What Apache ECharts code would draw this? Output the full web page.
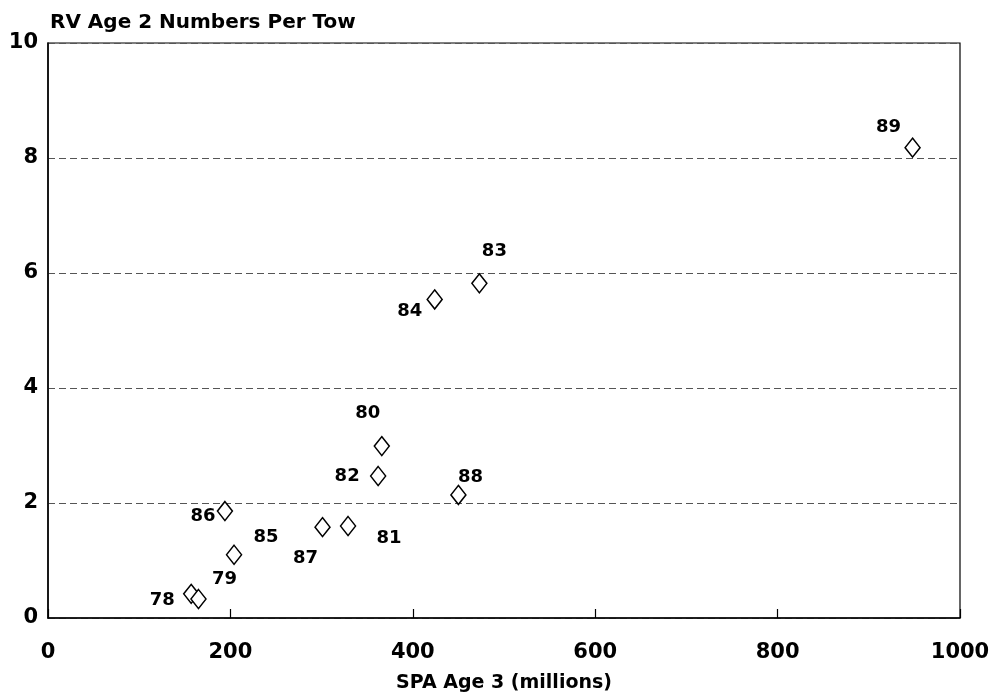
<!DOCTYPE html>
<html>
<head>
<meta charset="utf-8">
<script src="https://cdn.jsdelivr.net/npm/echarts@6/dist/echarts.min.js"></script>
<style>
  html, body { margin: 0; padding: 0; background: #fff; }
  #chart { width: 997px; height: 698px; }
</style>
</head>
<body>
<div id="chart"></div>
<script>
'use strict'

// data: year label, SPA age 3 (millions), RV age 2 numbers per tow
const years = ['78', '79', '80', '81', '82', '83', '84', '85', '86', '87', '88', '89']
const spaAge3 = [157, 165, 366, 329, 362, 473, 424, 204, 194, 301, 450, 948]
const rvAge2 = [0.42, 0.33, 2.99, 1.60, 2.47, 5.82, 5.54, 1.10, 1.86, 1.58, 2.14, 8.18]

const xTicks = [0, 200, 400, 600, 800, 1000]
const yTicks = [0, 2, 4, 6, 8, 10]

// where each year label sits relative to its marker (px)
const labelOffsets = {
  78: [-29, 6], 79: [26, -20], 80: [-14, -33], 81: [41, 12],
  82: [-31, 0], 83: [15, -32], 84: [-25, 12], 85: [32, -17],
  86: [-22, 5], 87: [-17, 31], 88: [12, -18], 89: [-24, -20]
}

const FONT = '"DejaVu Sans", "Liberation Sans", sans-serif'

const points = years.map((y, i) => ({
  value: [spaAge3[i], rvAge2[i]],
  label: { offset: labelOffsets[y] },
  name: y
}))

const chart = echarts.init(document.getElementById('chart'), null, { renderer: 'canvas' })

chart.setOption({
  animation: false,
  backgroundColor: '#fff',
  title: {
    text: 'RV Age 2 Numbers Per Tow',
    left: 45,
    top: 8,
    textStyle: { fontFamily: FONT, fontSize: 20, fontWeight: 'bold', color: '#000' }
  },
  grid: {
    left: 48,
    right: 37,
    top: 43,
    bottom: 79,
    show: true,
    borderColor: '#000',
    borderWidth: 1.2
  },
  xAxis: {
    type: 'value',
    min: xTicks[0],
    max: xTicks[xTicks.length - 1],
    interval: 200,
    name: 'SPA Age 3 (millions)',
    nameLocation: 'middle',
    nameGap: 56,
    nameTextStyle: { fontFamily: FONT, fontSize: 19, fontWeight: 'bold', color: '#000' },
    axisLine: { show: true, lineStyle: { color: '#000', width: 1.5 } },
    axisTick: { show: true, inside: true, length: 9, lineStyle: { color: '#000', width: 1.2 } },
    axisLabel: {
      margin: 24,
      fontFamily: FONT,
      fontSize: 21,
      fontWeight: 'bold',
      color: '#000',
      formatter: v => String(v)
    },
    splitLine: { show: false }
  },
  yAxis: {
    type: 'value',
    min: yTicks[0],
    max: yTicks[yTicks.length - 1],
    interval: 2,
    axisLine: { show: true, lineStyle: { color: '#000', width: 1.5 } },
    axisTick: { show: false },
    axisLabel: {
      margin: 10,
      fontFamily: FONT,
      fontSize: 21,
      fontWeight: 'bold',
      color: '#000'
    },
    splitLine: {
      show: true,
      lineStyle: { color: '#555', width: 1, type: [7, 4] }
    }
  },
  series: [{
    type: 'scatter',
    symbol: 'diamond',
    symbolSize: [15, 19],
    itemStyle: { color: '#fff', borderColor: '#000', borderWidth: 1.5, opacity: 1 },
    label: {
      show: true,
      position: 'inside',
      formatter: p => p.name,
      fontFamily: FONT,
      fontSize: 18,
      fontWeight: 'bold',
      color: '#000',
      textBorderWidth: 0
    },
    emphasis: { disabled: true },
    data: points
  }]
})
</script>
</body>
</html>
